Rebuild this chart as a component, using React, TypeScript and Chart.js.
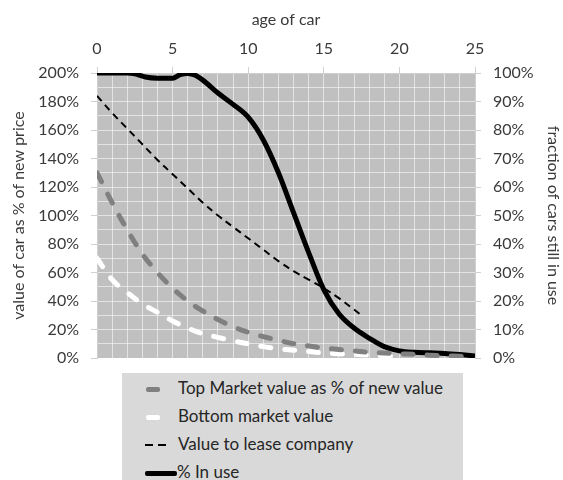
import React, { useEffect, useRef } from "react";
import { Chart, registerables } from "chart.js";

Chart.register(...registerables);

const xTitle = "age of car";
const yLeftTitle = "value of car as % of new price";
const yRightTitle = "fraction of cars still in use";

const topYears = [0, 1, 2, 3, 4, 5, 6, 7, 8, 9, 10, 11, 12, 13, 14, 15, 16, 17, 18, 19, 20, 21, 22, 23, 24, 25];
const topMarket = [130, 109, 90, 73, 60, 49, 40, 33, 27, 22, 18, 15, 12.5, 10, 8.5, 7, 6, 5, 4, 3.5, 3, 2.5, 2, 1.5, 1.2, 1];

const bottomYears = [0, 1, 2, 3, 4, 5, 6, 7, 8, 9, 10, 11, 12, 13, 14, 15, 16, 17, 18, 19, 20];
const bottomMarket = [70, 55, 46, 38, 32, 26, 21, 17, 14.5, 12, 10, 8, 6.5, 5.5, 4.5, 3.5, 3, 2.5, 2, 1.5, 1.2];

const leaseYears = [0, 1, 2, 3, 4, 5, 6, 7, 8, 9, 10, 11, 12, 13, 14, 15, 16, 17, 17.6];
const leaseValue = [184, 172, 161, 150, 139, 129, 119, 109, 100, 92, 84, 76, 68, 61, 55, 49, 42, 34, 29];

const useYears = [0, 1, 2, 2.5, 3.2, 4, 5, 5.5, 6, 6.5, 7, 8, 9, 10, 11, 12, 13, 14, 15, 16, 17, 18, 19, 20, 21, 22, 23, 24, 25];
const inUse = [100, 100, 100, 99.7, 98.6, 98.2, 98.2, 99.4, 99.8, 99.2, 97.5, 93, 89, 84.5, 76.5, 65, 51, 37, 24, 15.5, 10.5, 7, 4, 2.5, 2, 1.8, 1.6, 1.2, 0.7];

const legendLabels = [
  "Top Market value as % of new value",
  "Bottom market value",
  "Value to lease company",
  "% In use",
];

const zip = (xs: number[], ys: number[]) => xs.map((x, i) => ({ x, y: ys[i] }));

const FONT = "Lato, 'Open Sans', sans-serif";
const TXT = "#3a3a3a";

const bgPlugin = {
  id: "plotBg",
  beforeDraw(chart: any) {
    const { ctx, chartArea } = chart;
    if (!chartArea) return;
    ctx.save();
    ctx.fillStyle = "#c0c0c0";
    ctx.fillRect(chartArea.left, chartArea.top, chartArea.right - chartArea.left, chartArea.bottom - chartArea.top);
    ctx.restore();
  },
};

export default function App() {
  const ref = useRef<HTMLCanvasElement | null>(null);

  useEffect(() => {
    if (!ref.current) return;
    const chart = new Chart(ref.current, {
      type: "line",
      data: {
        datasets: [
          {
            label: legendLabels[0],
            data: zip(topYears, topMarket),
            borderColor: "#808080",
            borderWidth: 5,
            borderDash: [10, 14],
            borderCapStyle: "round",
            pointRadius: 0,
            tension: 0.4,
            yAxisID: "y",
          },
          {
            label: legendLabels[1],
            data: zip(bottomYears, bottomMarket),
            borderColor: "#ffffff",
            borderWidth: 5,
            borderDash: [10, 14],
            borderCapStyle: "round",
            pointRadius: 0,
            tension: 0.4,
            yAxisID: "y",
          },
          {
            label: legendLabels[2],
            data: zip(leaseYears, leaseValue),
            borderColor: "#000000",
            borderWidth: 2,
            borderDash: [7, 5],
            pointRadius: 0,
            tension: 0.4,
            yAxisID: "y",
          },
          {
            label: legendLabels[3],
            data: zip(useYears, inUse),
            borderColor: "#000000",
            borderWidth: 5,
            pointRadius: 0,
            cubicInterpolationMode: "monotone",
            yAxisID: "y2",
          },
        ],
      },
      options: {
        responsive: false,
        animation: false,
        devicePixelRatio: 1,
        layout: { padding: { left: 0, right: 0, top: 0, bottom: 122 } },
        plugins: { legend: { display: false }, tooltip: { enabled: false } },
        scales: {
          x: {
            type: "linear",
            position: "top",
            min: 0,
            max: 25,
            afterFit: (s: any) => { s.height = 73; },
            ticks: {
              stepSize: 1,
              autoSkip: false,
              maxRotation: 0,
              color: TXT,
              font: { family: FONT, size: 16 },
              padding: 9,
              callback: (v: any) => (Number(v) % 5 === 0 ? String(v) : ""),
            },
            grid: {
              color: "rgba(255,255,255,0.55)",
              tickColor: (c: any) => (c.tick && c.tick.value % 5 === 0 ? "#d0d0d0" : "rgba(0,0,0,0)"),
              tickLength: 6,
            },
            border: { color: "#d0d0d0" },
            title: { display: true, text: xTitle, color: TXT, font: { family: FONT, size: 16 }, padding: { top: 10, bottom: 2 } },
          },
          y: {
            position: "left",
            min: 0,
            max: 200,
            afterFit: (s: any) => { s.width = 97; },
            ticks: {
              stepSize: 10,
              autoSkip: false,
              color: TXT,
              font: { family: FONT, size: 16 },
              padding: 12,
              callback: (v: any) => (Number(v) % 20 === 0 ? v + "%" : ""),
            },
            grid: {
              color: "rgba(255,255,255,0.55)",
              tickColor: (c: any) => (c.tick && c.tick.value % 20 === 0 ? "#d0d0d0" : "rgba(0,0,0,0)"),
              tickLength: 6,
            },
            border: { color: "#d0d0d0" },
            title: { display: true, text: yLeftTitle, color: TXT, font: { family: FONT, size: 16 }, padding: { top: 9, bottom: 0 } },
          },
          y2: {
            position: "right",
            min: 0,
            max: 100,
            afterFit: (s: any) => { s.width = 88; },
            ticks: {
              stepSize: 10,
              autoSkip: false,
              color: TXT,
              font: { family: FONT, size: 16 },
              padding: 12,
              callback: (v: any) => v + "%",
            },
            grid: { drawOnChartArea: false, tickColor: "#d0d0d0", tickLength: 6 },
            border: { color: "#d0d0d0" },
            title: { display: true, text: yRightTitle, color: TXT, font: { family: FONT, size: 16 }, padding: { top: 0, bottom: 0 } },
          },
        },
      },
      plugins: [bgPlugin],
    } as any);
    return () => chart.destroy();
  }, []);

  const rowTop = [376, 404, 432, 460];
  const swatch = (i: number) => {
    if (i === 0) return <div style={{ position: "absolute", left: 146, top: 11, width: 14, height: 5, background: "#808080", borderRadius: 2 }} />;
    if (i === 1) return <div style={{ position: "absolute", left: 146, top: 11, width: 14, height: 5, background: "#ffffff", borderRadius: 2 }} />;
    if (i === 2)
      return (
        <>
          <div style={{ position: "absolute", left: 145, top: 12, width: 8, height: 2, background: "#000" }} />
          <div style={{ position: "absolute", left: 158, top: 12, width: 8, height: 2, background: "#000" }} />
        </>
      );
    return <div style={{ position: "absolute", left: 145, top: 11, width: 32, height: 5, background: "#000", borderRadius: 2 }} />;
  };

  return (
    <div style={{ position: "absolute", left: 0, top: 0, width: 563, height: 480, background: "#fff", overflow: "hidden" }}>
      <canvas ref={ref} width={563} height={480} style={{ position: "absolute", left: 0, top: 0 }} />
      <div style={{ position: "absolute", left: 122, top: 373, width: 341, height: 107, background: "#d9d9d9" }} />
      {legendLabels.map((t, i) => (
        <div key={t} style={{ position: "absolute", left: 0, top: rowTop[i], width: 563, height: 26 }}>
          {swatch(i)}
          <span
            style={{
              position: "absolute",
              left: i === 3 ? 177 : 178,
              top: 1,
              fontFamily: FONT,
              fontSize: 17,
              color: "#262626",
              whiteSpace: "nowrap",
              lineHeight: "22px",
            }}
          >
            {t}
          </span>
        </div>
      ))}
    </div>
  );
}
